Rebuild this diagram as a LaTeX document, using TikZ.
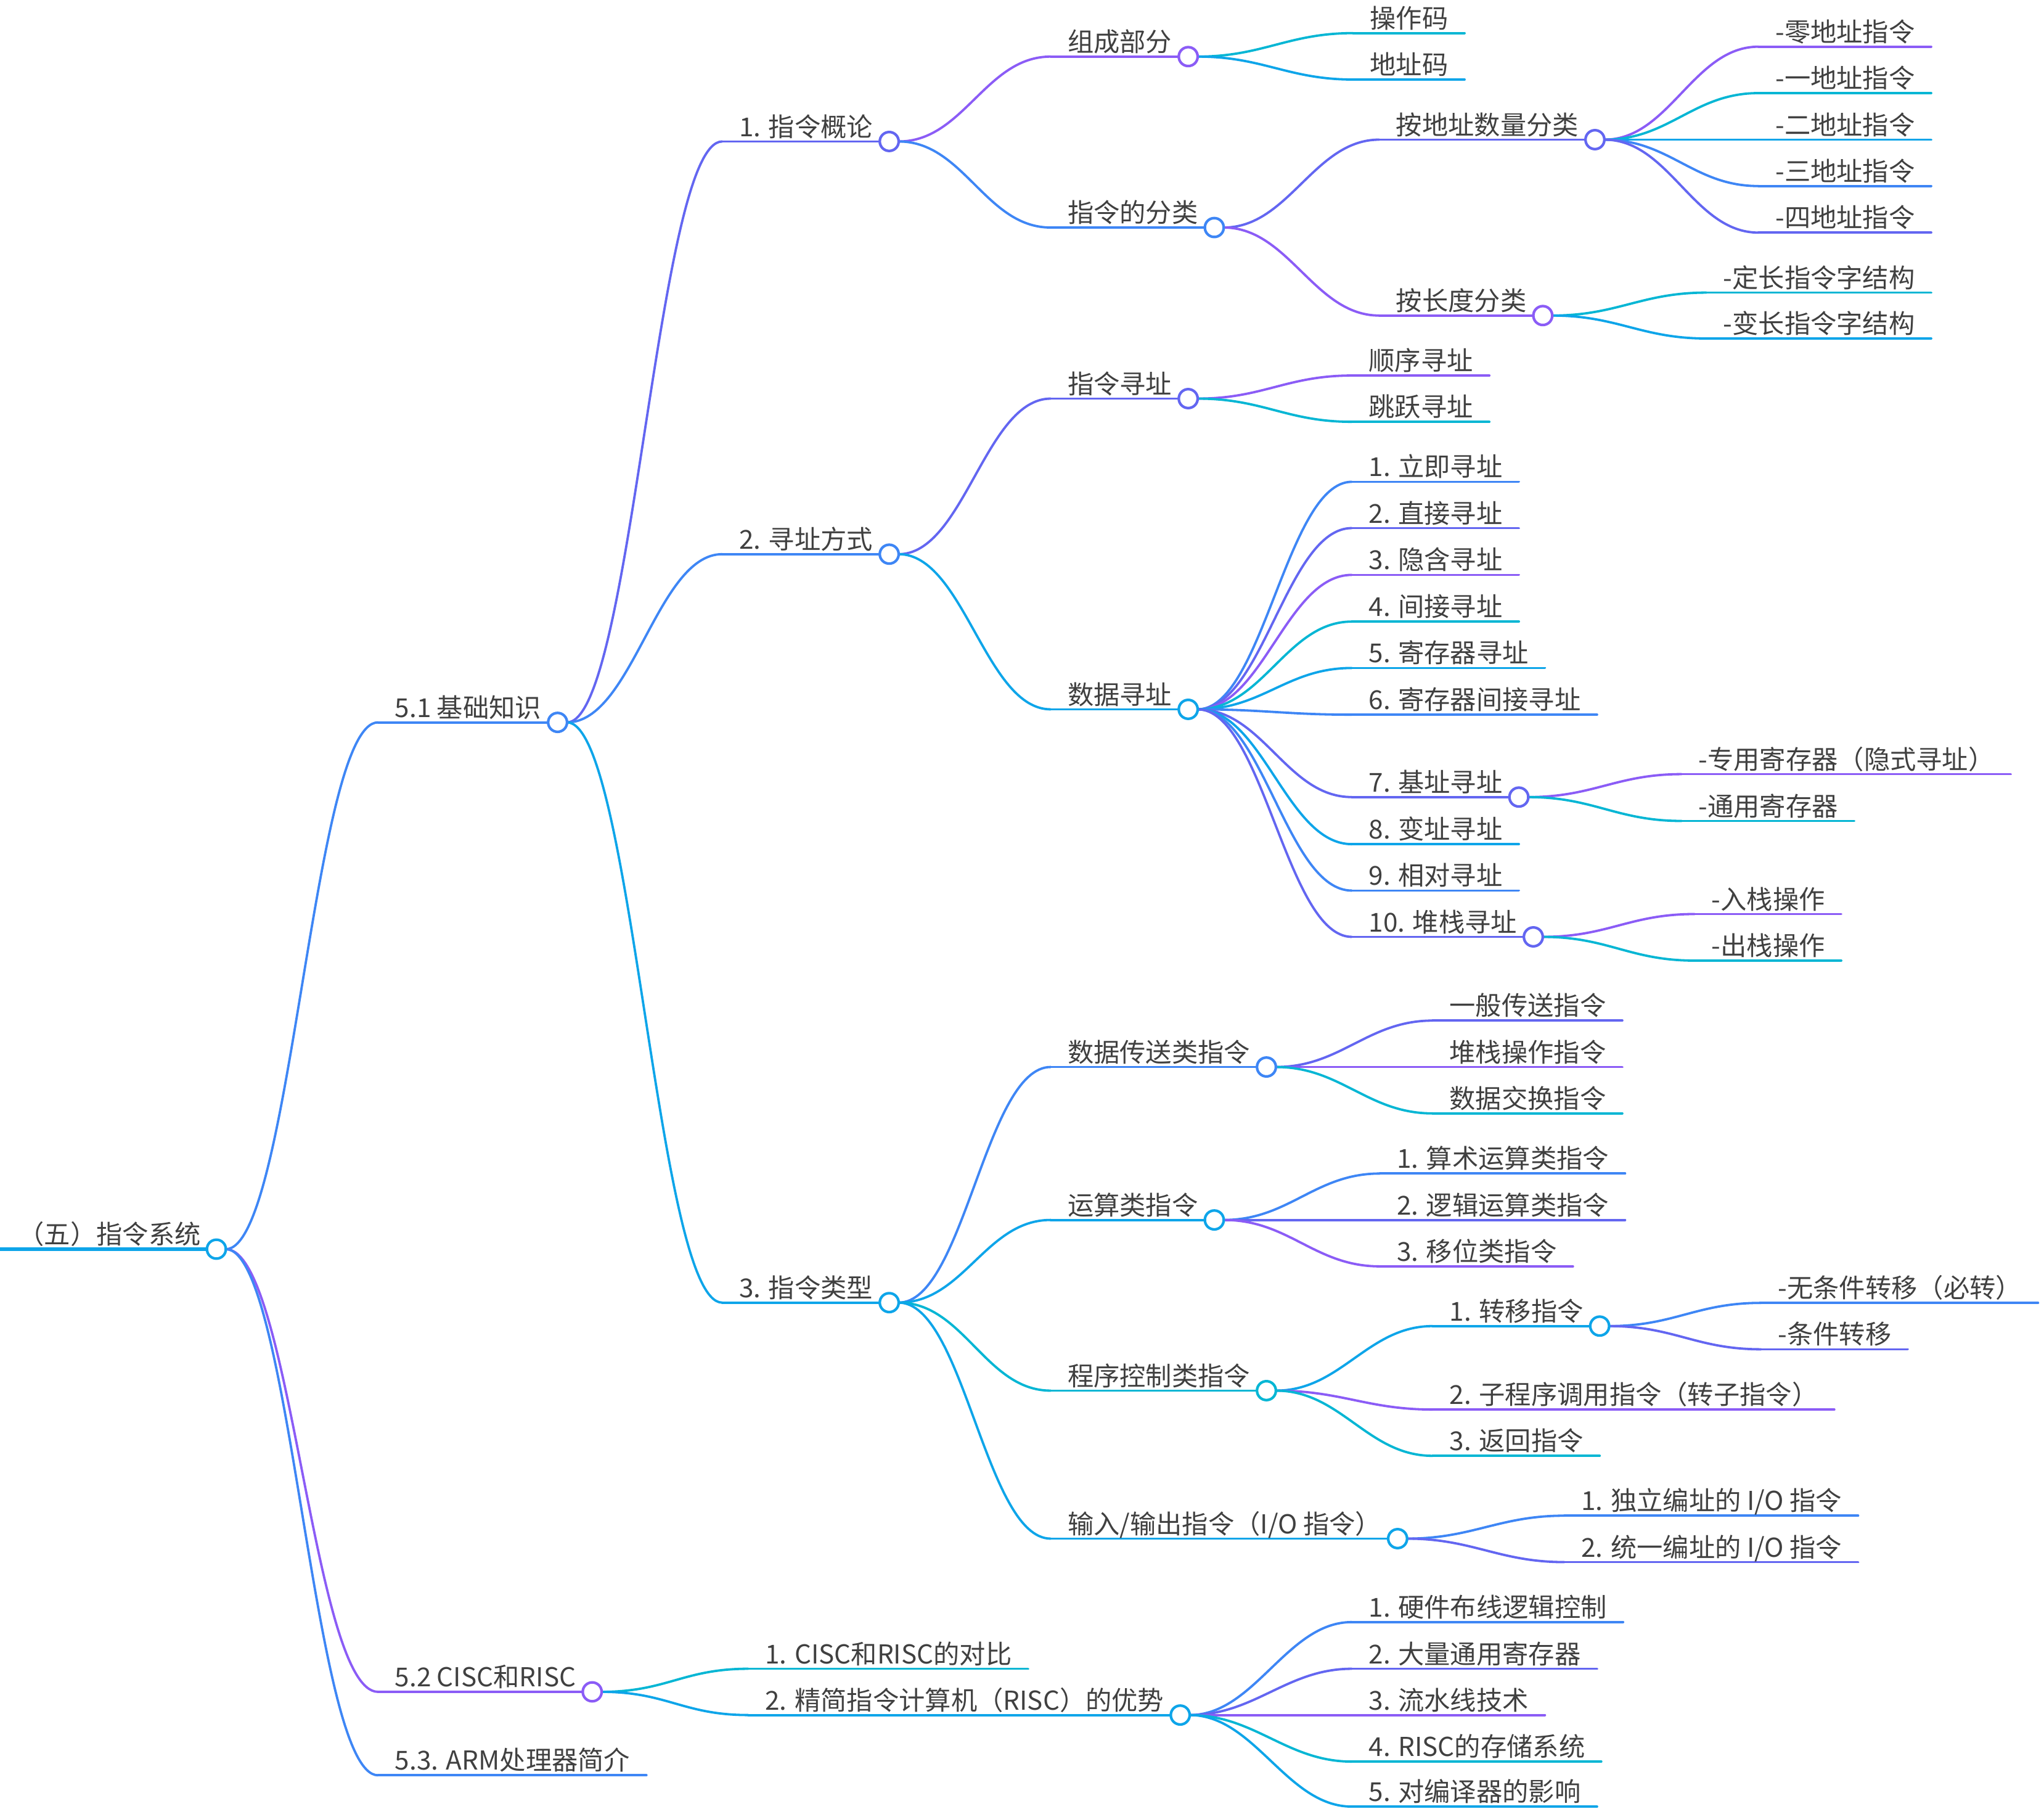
\documentclass[tikz,border=0pt]{standalone}
\usepackage{fontspec}
\setmainfont{Noto Sans CJK SC}
\usetikzlibrary{calc}
\pgfdeclarelayer{bg}
\pgfsetlayers{bg,main}
\definecolor{cblue}{HTML}{3E86F5}
\definecolor{cindigo}{HTML}{6366F1}
\definecolor{cpurple}{HTML}{8B5CF6}
\definecolor{ccyan}{HTML}{06B6D4}
\definecolor{csky}{HTML}{0EA5E9}
\definecolor{txtc}{HTML}{404040}
\tikzset{
  lbl/.style={inner sep=0pt, outer sep=0pt, text=txtc, font=\fontsize{20}{24}\selectfont},
  uline/.style={line width=1.8pt, line cap=round},
  dotc/.style={circle, fill=white, line width=2pt, minimum size=14.5pt, inner sep=0pt, outer sep=0pt},
}
% name, xleft, y, colour, text
\newcommand\mmnode[5]{%
  \node[lbl, anchor=base west] (#1-t) at (#2+13,#3-4) {#5};
  \coordinate (#1) at (#2,#3);
  \path (#1-t.east |- #1) ++(12.5,0) coordinate (#1-r);
  \begin{pgfonlayer}{bg}\draw[uline,#4] (#1) -- (#1-r);\end{pgfonlayer}%
}
\newcommand\mmdot[2]{\node[dotc,draw=#2] (#1-c) at (#1-r) {};}
\newcommand\mmlink[3]{\begin{pgfonlayer}{bg}\draw[uline,#3] (#1-c.east) .. controls +(50,0) and +(-50,0) .. (#2);\end{pgfonlayer}}
\begin{document}
\begin{tikzpicture}[x=1pt,y=-1pt]
\useasboundingbox (0,0) rectangle (1568,1386.9);
% root
\node[lbl, anchor=base west] (root-t) at (14,954) {（五）指令系统};
\coordinate (root) at (0,958);
\path (root-t.east |- root) ++(12,0) coordinate (root-r);
\begin{pgfonlayer}{bg}\draw[line width=2.8pt, csky] (root) -- (root-r);\end{pgfonlayer}
\node[dotc,draw=csky] (root-c) at (root-r) {};
% level 1
\mmnode{a}{290}{554}{cblue}{5.1 基础知识}\mmdot{a}{cblue}
\mmnode{b}{290}{1297.5}{cpurple}{5.2 CISC和RISC}\mmdot{b}{cpurple}
\mmnode{c}{290}{1361.5}{cblue}{5.3. ARM处理器简介}
\mmlink{root}{a}{cblue}\mmlink{root}{b}{cpurple}\mmlink{root}{c}{cblue}
% level 2 under 5.1
\mmnode{a1}{554}{108.5}{cindigo}{1. 指令概论}\mmdot{a1}{cindigo}
\mmnode{a2}{554}{425}{cblue}{2. 寻址方式}\mmdot{a2}{cblue}
\mmnode{a3}{554}{999}{csky}{3. 指令类型}\mmdot{a3}{csky}
\mmlink{a}{a1}{cindigo}\mmlink{a}{a2}{cblue}\mmlink{a}{a3}{csky}
% 1. 指令概论
\mmnode{a11}{806}{43.4}{cpurple}{组成部分}\mmdot{a11}{cpurple}
\mmnode{a12}{806}{174.5}{cblue}{指令的分类}\mmdot{a12}{cblue}
\mmlink{a1}{a11}{cpurple}\mmlink{a1}{a12}{cblue}
\mmnode{a111}{1038}{25.4}{ccyan}{操作码}
\mmnode{a112}{1038}{61}{csky}{地址码}
\mmlink{a11}{a111}{ccyan}\mmlink{a11}{a112}{csky}
\mmnode{a121}{1058}{107.1}{cindigo}{按地址数量分类}\mmdot{a121}{cindigo}
\mmnode{a122}{1058}{242}{cpurple}{按长度分类}\mmdot{a122}{cpurple}
\mmlink{a12}{a121}{cindigo}\mmlink{a12}{a122}{cpurple}
\mmnode{p1}{1349}{35.8}{cpurple}{-零地址指令}
\mmnode{p2}{1349}{71.4}{ccyan}{-一地址指令}
\mmnode{p3}{1349}{107.1}{csky}{-二地址指令}
\mmnode{p4}{1349}{142.7}{cblue}{-三地址指令}
\mmnode{p5}{1349}{178.4}{cindigo}{-四地址指令}
\mmlink{a121}{p1}{cpurple}\mmlink{a121}{p2}{ccyan}\mmlink{a121}{p3}{csky}\mmlink{a121}{p4}{cblue}\mmlink{a121}{p5}{cindigo}
\mmnode{q1}{1309}{224.4}{ccyan}{-定长指令字结构}
\mmnode{q2}{1309}{259.6}{csky}{-变长指令字结构}
\mmlink{a122}{q1}{ccyan}\mmlink{a122}{q2}{csky}
% 2. 寻址方式
\mmnode{a21}{806}{305.7}{cindigo}{指令寻址}\mmdot{a21}{cindigo}
\mmnode{a22}{806}{544}{csky}{数据寻址}\mmdot{a22}{csky}
\mmlink{a2}{a21}{cindigo}\mmlink{a2}{a22}{csky}
\mmnode{r1}{1037}{288}{cpurple}{顺序寻址}
\mmnode{r2}{1037}{323.5}{ccyan}{跳跃寻址}
\mmlink{a21}{r1}{cpurple}\mmlink{a21}{r2}{ccyan}
\mmnode{s1}{1037}{369.5}{cblue}{1. 立即寻址}
\mmnode{s2}{1037}{405}{cindigo}{2. 直接寻址}
\mmnode{s3}{1037}{440.9}{cpurple}{3. 隐含寻址}
\mmnode{s4}{1037}{476.7}{ccyan}{4. 间接寻址}
\mmnode{s5}{1037}{512.3}{csky}{5. 寄存器寻址}
\mmnode{s6}{1037}{548.1}{cblue}{6. 寄存器间接寻址}
\mmnode{s7}{1037}{611.3}{cindigo}{7. 基址寻址}\mmdot{s7}{cindigo}
\mmnode{s8}{1037}{647.4}{csky}{8. 变址寻址}
\mmnode{s9}{1037}{683}{cblue}{9. 相对寻址}
\mmnode{s10}{1037}{718.5}{cindigo}{10. 堆栈寻址}\mmdot{s10}{cindigo}
\mmlink{a22}{s1}{cblue}\mmlink{a22}{s2}{cindigo}\mmlink{a22}{s3}{cpurple}\mmlink{a22}{s4}{ccyan}\mmlink{a22}{s5}{csky}
\mmlink{a22}{s6}{cblue}\mmlink{a22}{s7}{cindigo}\mmlink{a22}{s8}{csky}\mmlink{a22}{s9}{cblue}\mmlink{a22}{s10}{cindigo}
\mmnode{t1}{1290}{593.7}{cpurple}{-专用寄存器（隐式寻址）}
\mmnode{t2}{1290}{629.6}{ccyan}{-通用寄存器}
\mmlink{s7}{t1}{cpurple}\mmlink{s7}{t2}{ccyan}
\mmnode{u1}{1300}{701}{cpurple}{-入栈操作}
\mmnode{u2}{1300}{736.7}{ccyan}{-出栈操作}
\mmlink{s10}{u1}{cpurple}\mmlink{s10}{u2}{ccyan}
% 3. 指令类型
\mmnode{a31}{806}{818.3}{cblue}{数据传送类指令}\mmdot{a31}{cblue}
\mmnode{a32}{806}{935.6}{csky}{运算类指令}\mmdot{a32}{csky}
\mmnode{a33}{806}{1066.5}{ccyan}{程序控制类指令}\mmdot{a33}{ccyan}
\mmnode{a34}{806}{1180}{csky}{输入/输出指令（I/O 指令）}\mmdot{a34}{csky}
\mmlink{a3}{a31}{cblue}\mmlink{a3}{a32}{csky}\mmlink{a3}{a33}{ccyan}\mmlink{a3}{a34}{csky}
\mmnode{v1}{1099}{782.7}{cindigo}{一般传送指令}
\mmnode{v2}{1099}{818.3}{cpurple}{堆栈操作指令}
\mmnode{v3}{1099}{853.9}{ccyan}{数据交换指令}
\mmlink{a31}{v1}{cindigo}\mmlink{a31}{v2}{cpurple}\mmlink{a31}{v3}{ccyan}
\mmnode{w1}{1058.5}{900}{cblue}{1. 算术运算类指令}
\mmnode{w2}{1058.5}{935.6}{cindigo}{2. 逻辑运算类指令}
\mmnode{w3}{1058.5}{971.2}{cpurple}{3. 移位类指令}
\mmlink{a32}{w1}{cblue}\mmlink{a32}{w2}{cindigo}\mmlink{a32}{w3}{cpurple}
\mmnode{a331}{1099}{1017}{csky}{1. 转移指令}\mmdot{a331}{csky}
\mmnode{a332}{1099}{1081}{cpurple}{2. 子程序调用指令（转子指令）}
\mmnode{a333}{1099}{1116.5}{ccyan}{3. 返回指令}
\mmlink{a33}{a331}{csky}\mmlink{a33}{a332}{cpurple}\mmlink{a33}{a333}{ccyan}
\mmnode{g1}{1351}{999.2}{cblue}{-无条件转移（必转）}
\mmnode{g2}{1351}{1034.8}{cindigo}{-条件转移}
\mmlink{a331}{g1}{cblue}\mmlink{a331}{g2}{cindigo}
\mmnode{z1}{1200}{1162.4}{cblue}{1. 独立编址的 I/O 指令}
\mmnode{z2}{1200}{1198}{cindigo}{2. 统一编址的 I/O 指令}
\mmlink{a34}{z1}{cblue}\mmlink{a34}{z2}{cindigo}
% 5.2
\mmnode{b1}{574}{1279.8}{ccyan}{1. CISC和RISC的对比}
\mmnode{b2}{574}{1315.3}{csky}{2. 精简指令计算机（RISC）的优势}\mmdot{b2}{csky}
\mmlink{b}{b1}{ccyan}\mmlink{b}{b2}{csky}
\mmnode{e1}{1037}{1244}{cblue}{1. 硬件布线逻辑控制}
\mmnode{e2}{1037}{1279.8}{cindigo}{2. 大量通用寄存器}
\mmnode{e3}{1037}{1315.3}{cpurple}{3. 流水线技术}
\mmnode{e4}{1037}{1351}{ccyan}{4. RISC的存储系统}
\mmnode{e5}{1037}{1385.5}{csky}{5. 对编译器的影响}
\mmlink{b2}{e1}{cblue}\mmlink{b2}{e2}{cindigo}\mmlink{b2}{e3}{cpurple}\mmlink{b2}{e4}{ccyan}\mmlink{b2}{e5}{csky}
\end{tikzpicture}
\end{document}
